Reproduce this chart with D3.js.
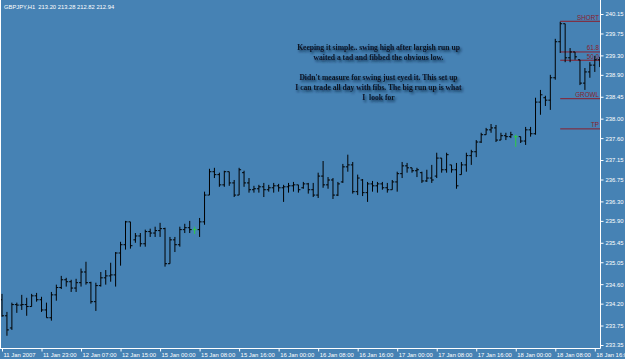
<!DOCTYPE html>
<html>
<head>
<meta charset="utf-8">
<script src="https://cdn.jsdelivr.net/npm/d3@7"></script>
<style>
  html, body { margin: 0; padding: 0; background: #4682b4; }
  svg { display: block; }
</style>
</head>
<body>
<div id="chart"></div>
<script>
// GBPJPY H1 bars, 11 Jan 2007 -> 18 Jan 2007
var opens = [
  234.28, 233.95, 233.70, 234.18, 234.17, 234.18, 234.14, 234.36, 234.28, 234.07,
  233.91, 234.38, 234.53, 234.69, 234.65, 234.52, 234.63, 234.85, 234.63, 234.24,
  234.57, 234.73, 234.77, 234.79, 235.24, 235.41, 235.88, 235.51, 235.59, 235.43,
  235.68, 235.65, 235.70, 235.74, 235.02, 235.51, 235.41, 235.72, 235.76, 235.72,
  235.72, 235.88, 236.43, 236.91, 236.85, 236.64, 236.91, 236.68, 236.43, 236.89,
  236.68, 236.54, 236.56, 236.60, 236.54, 236.58, 236.62, 236.58, 236.60, 236.62,
  236.64, 236.58, 236.66, 236.54, 236.43, 236.82, 236.64, 236.74, 236.43, 236.70,
  237.01, 237.05, 236.50, 236.74, 236.48, 236.66, 236.62, 236.66, 236.58, 236.54,
  236.70, 236.87, 237.03, 236.99, 236.93, 236.89, 236.72, 236.78, 236.82, 237.19,
  236.95, 237.05, 236.95, 236.85, 237.05, 237.24, 237.32, 237.52, 237.67, 237.77,
  237.81, 237.56, 237.65, 237.63, 237.63, 237.63, 237.54, 237.77, 237.69, 238.34,
  238.43, 238.38, 238.84, 239.58, 239.95, 239.25, 239.37, 239.21, 238.73, 238.96,
  239.10, 239.21
];
var highs = [
  234.40, 234.03, 234.22, 234.22, 234.38, 234.32, 234.40, 234.42, 234.34, 234.22,
  234.44, 234.59, 234.77, 234.73, 234.69, 234.71, 234.92, 235.06, 234.65, 234.63,
  234.85, 234.89, 235.04, 235.26, 235.47, 235.90, 235.88, 235.65, 235.65, 235.72,
  235.74, 235.78, 235.86, 235.76, 235.57, 235.57, 235.78, 235.84, 235.90, 235.78,
  235.96, 236.50, 236.97, 236.99, 236.89, 236.93, 236.91, 236.74, 236.99, 236.93,
  236.78, 236.62, 236.64, 236.68, 236.64, 236.68, 236.66, 236.64, 236.68, 236.70,
  236.64, 236.70, 236.68, 236.68, 236.89, 237.13, 236.80, 236.78, 236.70, 237.07,
  237.26, 237.11, 236.85, 236.76, 236.70, 236.72, 236.70, 236.70, 236.68, 236.74,
  236.91, 237.11, 237.09, 236.99, 236.99, 236.91, 236.95, 237.05, 237.30, 237.19,
  237.30, 237.05, 237.09, 237.11, 237.30, 237.36, 237.56, 237.71, 237.81, 237.89,
  237.87, 237.71, 237.71, 237.73, 237.67, 237.63, 237.83, 237.83, 238.43, 238.59,
  238.47, 238.90, 239.64, 239.99, 239.95, 239.45, 239.37, 239.21, 239.04, 239.16,
  239.29, 239.27
];
var lows = [
  233.93, 233.54, 233.66, 234.01, 234.07, 233.95, 234.14, 234.24, 234.03, 233.91,
  233.85, 234.26, 234.50, 234.55, 234.44, 234.44, 234.55, 234.59, 234.20, 234.05,
  234.55, 234.59, 234.65, 234.55, 234.98, 235.31, 235.33, 235.45, 235.37, 235.37,
  235.57, 235.57, 235.57, 234.96, 235.02, 235.26, 235.37, 235.65, 235.65, 235.63,
  235.57, 235.82, 236.43, 236.78, 236.60, 236.60, 236.62, 236.39, 236.43, 236.60,
  236.48, 236.48, 236.48, 236.39, 236.50, 236.48, 236.50, 236.29, 236.48, 236.50,
  236.48, 236.56, 236.46, 236.39, 236.37, 236.58, 236.56, 236.35, 236.41, 236.68,
  236.91, 236.46, 236.43, 236.41, 236.29, 236.50, 236.48, 236.54, 236.48, 236.54,
  236.50, 236.78, 236.89, 236.89, 236.80, 236.68, 236.70, 236.68, 236.78, 236.89,
  236.89, 236.89, 236.56, 236.85, 236.91, 237.05, 237.21, 237.50, 237.67, 237.71,
  237.52, 237.56, 237.56, 237.60, 237.42, 237.50, 237.46, 237.63, 237.67, 238.08,
  238.26, 238.18, 238.80, 239.35, 239.16, 239.16, 239.21, 238.69, 238.59, 238.84,
  238.96, 239.06
];
var closes = [
  233.95, 233.66, 234.18, 234.17, 234.18, 234.14, 234.36, 234.28, 234.07, 233.91,
  234.38, 234.53, 234.69, 234.65, 234.52, 234.63, 234.85, 234.63, 234.24, 234.57,
  234.73, 234.77, 234.79, 235.24, 235.41, 235.88, 235.39, 235.59, 235.43, 235.68,
  235.65, 235.70, 235.74, 235.02, 235.51, 235.41, 235.72, 235.76, 235.72, 235.72,
  235.88, 236.43, 236.91, 236.85, 236.64, 236.91, 236.68, 236.43, 236.95, 236.68,
  236.54, 236.56, 236.60, 236.54, 236.58, 236.62, 236.58, 236.60, 236.62, 236.64,
  236.54, 236.66, 236.54, 236.43, 236.82, 236.64, 236.74, 236.43, 236.66, 237.01,
  237.05, 236.50, 236.78, 236.48, 236.66, 236.62, 236.66, 236.58, 236.54, 236.70,
  236.87, 237.03, 236.99, 236.93, 236.95, 236.72, 236.78, 236.74, 237.19, 236.95,
  237.26, 236.95, 236.62, 237.05, 237.24, 237.32, 237.52, 237.67, 237.77, 237.81,
  237.56, 237.65, 237.63, 237.67, 237.63, 237.54, 237.77, 237.69, 238.34, 238.49,
  238.38, 238.84, 239.58, 239.95, 239.25, 239.37, 239.27, 238.73, 238.96, 239.10,
  239.21, 239.12
];

// one label every 8 bars
var timeLabels = ["11 Jan 2007", "11 Jan 23:00", "12 Jan 07:00", "12 Jan 15:00",
  "15 Jan 00:00", "15 Jan 08:00", "15 Jan 16:00", "16 Jan 00:00", "16 Jan 08:00",
  "16 Jan 16:00", "17 Jan 00:00", "17 Jan 08:00", "17 Jan 16:00", "18 Jan 00:00",
  "18 Jan 08:00", "18 Jan 16:00"];
var priceTicks = [240.15, 239.75, 239.30, 238.90, 238.45, 238.00, 237.60, 237.15,
  236.75, 236.30, 235.90, 235.45, 235.05, 234.60, 234.20, 233.75, 233.35];

// fib / trade lines drawn from the swing high bar
var levelNames = ["SHORT", "61.8", "50.0", "GROWL", "TP"];
var levelPrices = [240.00, 239.37, 239.20, 238.41, 237.79];
var levelStartBar = 113;

var header = "GBPJPY,H1  213.20 213.28 212.82 212.94";
var noteLines = ["Keeping it simple.. swing high after largish run up",
  "waited a tad and fibbed the obvious low.",
  "",
  "Didn't measure for swing just eyed it. This set up",
  "I can trade all day with fibs. The big run up is what",
  "I  look for"];

function init(){

    var w = 625;
    var h = 359;
    var plotRight = 600;
    var plotBottom = 348;

    var bars = opens.map(function(o, i){
        return {i: i, o: o, h: highs[i], l: lows[i], c: closes[i]};
    });

    var xScale = d3.scaleLinear().domain([0, 120]).range([2, 594.8]);
    var yScale = d3.scaleLinear().domain([233.35, 240.15]).range([345, 14]);

    var svg = d3.select("#chart")
                .append("svg")
                .attr("width", w)
                .attr("height", h);

    svg.append("rect")
        .attr("width", w)
        .attr("height", h)
        .attr("fill", "#4682b4");

    var defs = svg.append("defs");
    defs.append("clipPath").attr("id", "plot")
        .append("rect").attr("x", 0).attr("y", 0)
        .attr("width", plotRight).attr("height", plotBottom);
    var f = defs.append("filter").attr("id", "shadow")
        .attr("x", "-10%").attr("y", "-50%").attr("width", "130%").attr("height", "250%");
    f.append("feDropShadow")
        .attr("dx", 1.5).attr("dy", 2)
        .attr("stdDeviation", 1.2)
        .attr("flood-color", "#10223a")
        .attr("flood-opacity", 0.8);

    // trade levels
    var levels = svg.append("g").attr("clip-path", "url(#plot)");
    levels.selectAll("line")
        .data(levelPrices)
        .enter()
        .append("line")
        .attr("x1", xScale(levelStartBar))
        .attr("x2", plotRight)
        .attr("y1", function(d){ return yScale(d); })
        .attr("y2", function(d){ return yScale(d); })
        .attr("stroke", "#8b1e2c")
        .attr("stroke-width", 1);
    levels.selectAll("text")
        .data(levelPrices)
        .enter()
        .append("text")
        .text(function(d, i){ return levelNames[i]; })
        .attr("x", plotRight - 1)
        .attr("y", function(d){ return yScale(d) - 1.5; })
        .attr("text-anchor", "end")
        .attr("font-family", "Liberation Sans, Arial, sans-serif")
        .attr("font-size", 6.3)
        .attr("fill", "#8b1e2c");

    // OHLC bars
    var g = svg.append("g").attr("clip-path", "url(#plot)");
    var barColor = function(d){
        return d.o === d.c ? "#2ecc40" : "#000";
    };
    g.selectAll("line.hl")
        .data(bars)
        .enter()
        .append("line")
        .attr("class", "hl")
        .attr("x1", function(d){ return xScale(d.i); })
        .attr("x2", function(d){ return xScale(d.i); })
        .attr("y1", function(d){ return yScale(d.h); })
        .attr("y2", function(d){ return yScale(d.l); })
        .attr("stroke", barColor);
    g.selectAll("line.op")
        .data(bars)
        .enter()
        .append("line")
        .attr("class", "op")
        .attr("x1", function(d){ return xScale(d.i) - 2; })
        .attr("x2", function(d){ return xScale(d.i); })
        .attr("y1", function(d){ return yScale(d.o); })
        .attr("y2", function(d){ return yScale(d.o); })
        .attr("stroke", barColor);
    g.selectAll("line.cl")
        .data(bars)
        .enter()
        .append("line")
        .attr("class", "cl")
        .attr("x1", function(d){ return xScale(d.i); })
        .attr("x2", function(d){ return xScale(d.i) + 2; })
        .attr("y1", function(d){ return yScale(d.c); })
        .attr("y2", function(d){ return yScale(d.c); })
        .attr("stroke", barColor);

    // frame
    svg.append("line")
        .attr("x1", 0.5).attr("x2", 0.5)
        .attr("y1", 0).attr("y2", plotBottom)
        .attr("stroke", "#fff");

    // axes
    var yAxis = d3.axisRight(yScale)
        .tickValues(priceTicks)
        .tickFormat(d3.format(".2f"))
        .tickSize(3)
        .tickPadding(2);
    var ya = svg.append("g")
        .attr("transform", "translate(" + (plotRight + 0.5) + ",0)")
        .call(yAxis);
    ya.select(".domain").attr("d", "M0,0V" + (plotBottom + 0.5));

    var xAxis = d3.axisBottom(xScale)
        .tickValues(timeLabels.map(function(d, i){ return i * 8; }))
        .tickFormat(function(d){ return timeLabels[d / 8]; })
        .tickSize(3)
        .tickPadding(1);
    var xa = svg.append("g")
        .attr("transform", "translate(0," + (plotBottom + 0.5) + ")")
        .call(xAxis);
    xa.select(".domain").attr("d", "M0,0H" + (plotRight + 0.5));
    xa.selectAll("text").attr("text-anchor", "start").attr("dx", 1);

    [ya, xa].forEach(function(a){
        a.attr("font-family", "Liberation Sans, Arial, sans-serif")
         .attr("font-size", 5.9);
        a.selectAll(".domain, line").attr("stroke", "#fff");
        a.selectAll("text").attr("fill", "#fff");
    });

    // header
    svg.append("text")
        .text(header)
        .attr("x", 4)
        .attr("y", 8.5)
        .attr("xml:space", "preserve")
        .attr("font-family", "Liberation Sans, Arial, sans-serif")
        .attr("font-size", 5.8)
        .attr("fill", "#fff");

    // note
    svg.append("g")
        .attr("filter", "url(#shadow)")
        .selectAll("text")
        .data(noteLines)
        .enter()
        .append("text")
        .text(function(d){ return d; })
        .attr("xml:space", "preserve")
        .attr("x", 378.5)
        .attr("y", function(d, i){ return 49.5 + i * 10; })
        .attr("text-anchor", "middle")
        .attr("font-family", "Liberation Serif, Times New Roman, serif")
        .attr("font-weight", "bold")
        .attr("font-size", 7.6)
        .attr("fill", "#0b1424");
}
window.onload = init;
</script>
</body>
</html>
